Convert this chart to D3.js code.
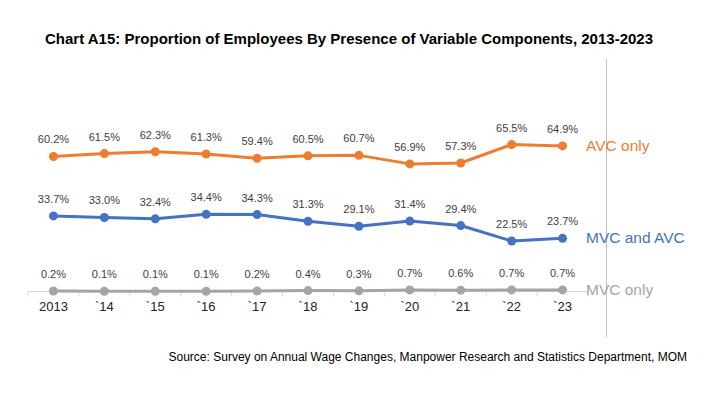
<!DOCTYPE html>
<html>
<head>
<meta charset="utf-8">
<script src="https://cdn.jsdelivr.net/npm/d3@7"></script>
<style>
  body { margin: 0; background: #fff; }
  svg { display: block; }
</style>
</head>
<body>
<svg id="chart" width="712" height="399"></svg>
<script>
// data
const years = ["2013", "`14", "`15", "`16", "`17", "`18", "`19", "`20", "`21", "`22", "`23"];
const avcOnly = [60.2, 61.5, 62.3, 61.3, 59.4, 60.5, 60.7, 56.9, 57.3, 65.5, 64.9];
const mvcAndAvc = [33.7, 33.0, 32.4, 34.4, 34.3, 31.3, 29.1, 31.4, 29.4, 22.5, 23.7];
const mvcOnly = [0.2, 0.1, 0.1, 0.1, 0.2, 0.4, 0.3, 0.7, 0.6, 0.7, 0.7];

const series = [
  { name: "AVC only", values: avcOnly, color: "#ED7D31" },
  { name: "MVC and AVC", values: mvcAndAvc, color: "#4472C4" },
  { name: "MVC only", values: mvcOnly, color: "#A5A5A5" }
];

const svg = d3.select("#chart");

const x = d3.scalePoint().domain(years).range([28, 588]).padding(0.5);
const y = d3.scaleLinear().domain([0, 70]).range([291.5, 134.5]);

// title
svg.append("text")
  .attr("x", 45)
  .attr("y", 44)
  .attr("textLength", 608)
  .attr("lengthAdjust", "spacingAndGlyphs")
  .style("font-family", "'Liberation Sans', Arial, sans-serif")
  .style("font-weight", "bold")
  .style("font-size", "15.5px")
  .attr("fill", "#000")
  .text("Chart A15: Proportion of Employees By Presence of Variable Components, 2013-2023");

// right separator line
svg.append("line")
  .attr("x1", 606.5).attr("x2", 606.5)
  .attr("y1", 59).attr("y2", 337)
  .attr("stroke", "#bfbfbf")
  .attr("stroke-width", 1);

// x axis
const step = x.step();
const axisG = svg.append("g").attr("transform", `translate(0,${y(0)})`);
axisG.append("line")
  .attr("x1", 28).attr("x2", 588)
  .attr("stroke", "#d9d9d9")
  .attr("stroke-width", 1);
axisG.selectAll("line.tick")
  .data(d3.range(years.length + 1))
  .join("line")
  .attr("class", "tick")
  .attr("x1", (i) => 28 + i * step)
  .attr("x2", (i) => 28 + i * step)
  .attr("y1", 0).attr("y2", 5)
  .attr("stroke", "#d9d9d9");
axisG.selectAll("text")
  .data(years)
  .join("text")
  .attr("x", (d) => x(d))
  .attr("y", 19)
  .attr("text-anchor", "middle")
  .style("font-family", "'Liberation Sans', Arial, sans-serif")
  .style("font-size", "13px")
  .attr("fill", "#222")
  .text((d) => d);

// lines, markers, labels
const line = d3.line()
  .x((d, i) => x(years[i]))
  .y((d) => y(d));

series.forEach((s) => {
  const g = svg.append("g");
  g.append("path")
    .datum(s.values)
    .attr("fill", "none")
    .attr("stroke", s.color)
    .attr("stroke-width", 3)
    .attr("stroke-linejoin", "round")
    .attr("d", line);

  g.selectAll("circle")
    .data(s.values)
    .join("circle")
    .attr("cx", (d, i) => x(years[i]))
    .attr("cy", (d) => y(d))
    .attr("r", 4.5)
    .attr("fill", s.color);

  g.selectAll("text.val")
    .data(s.values)
    .join("text")
    .attr("class", "val")
    .attr("x", (d, i) => x(years[i]))
    .attr("y", (d) => y(d) - 13)
    .attr("text-anchor", "middle")
    .style("font-family", "'Liberation Sans', Arial, sans-serif")
    .style("font-size", "11px")
    .attr("fill", "#404040")
    .text((d) => d.toFixed(1) + "%");

  const last = s.values[s.values.length - 1];
  g.append("text")
    .attr("x", 586)
    .attr("y", y(last) + 5)
    .style("font-family", "'Liberation Sans', Arial, sans-serif")
    .style("font-size", "15.5px")
    .attr("fill", s.color)
    .text(s.name);
});

// source
svg.append("text")
  .attr("x", 687)
  .attr("y", 361)
  .attr("text-anchor", "end")
  .style("font-family", "'Liberation Sans', Arial, sans-serif")
  .style("font-size", "12px")
  .attr("fill", "#000")
  .text("Source: Survey on Annual Wage Changes, Manpower Research and Statistics Department, MOM");
</script>
</body>
</html>
